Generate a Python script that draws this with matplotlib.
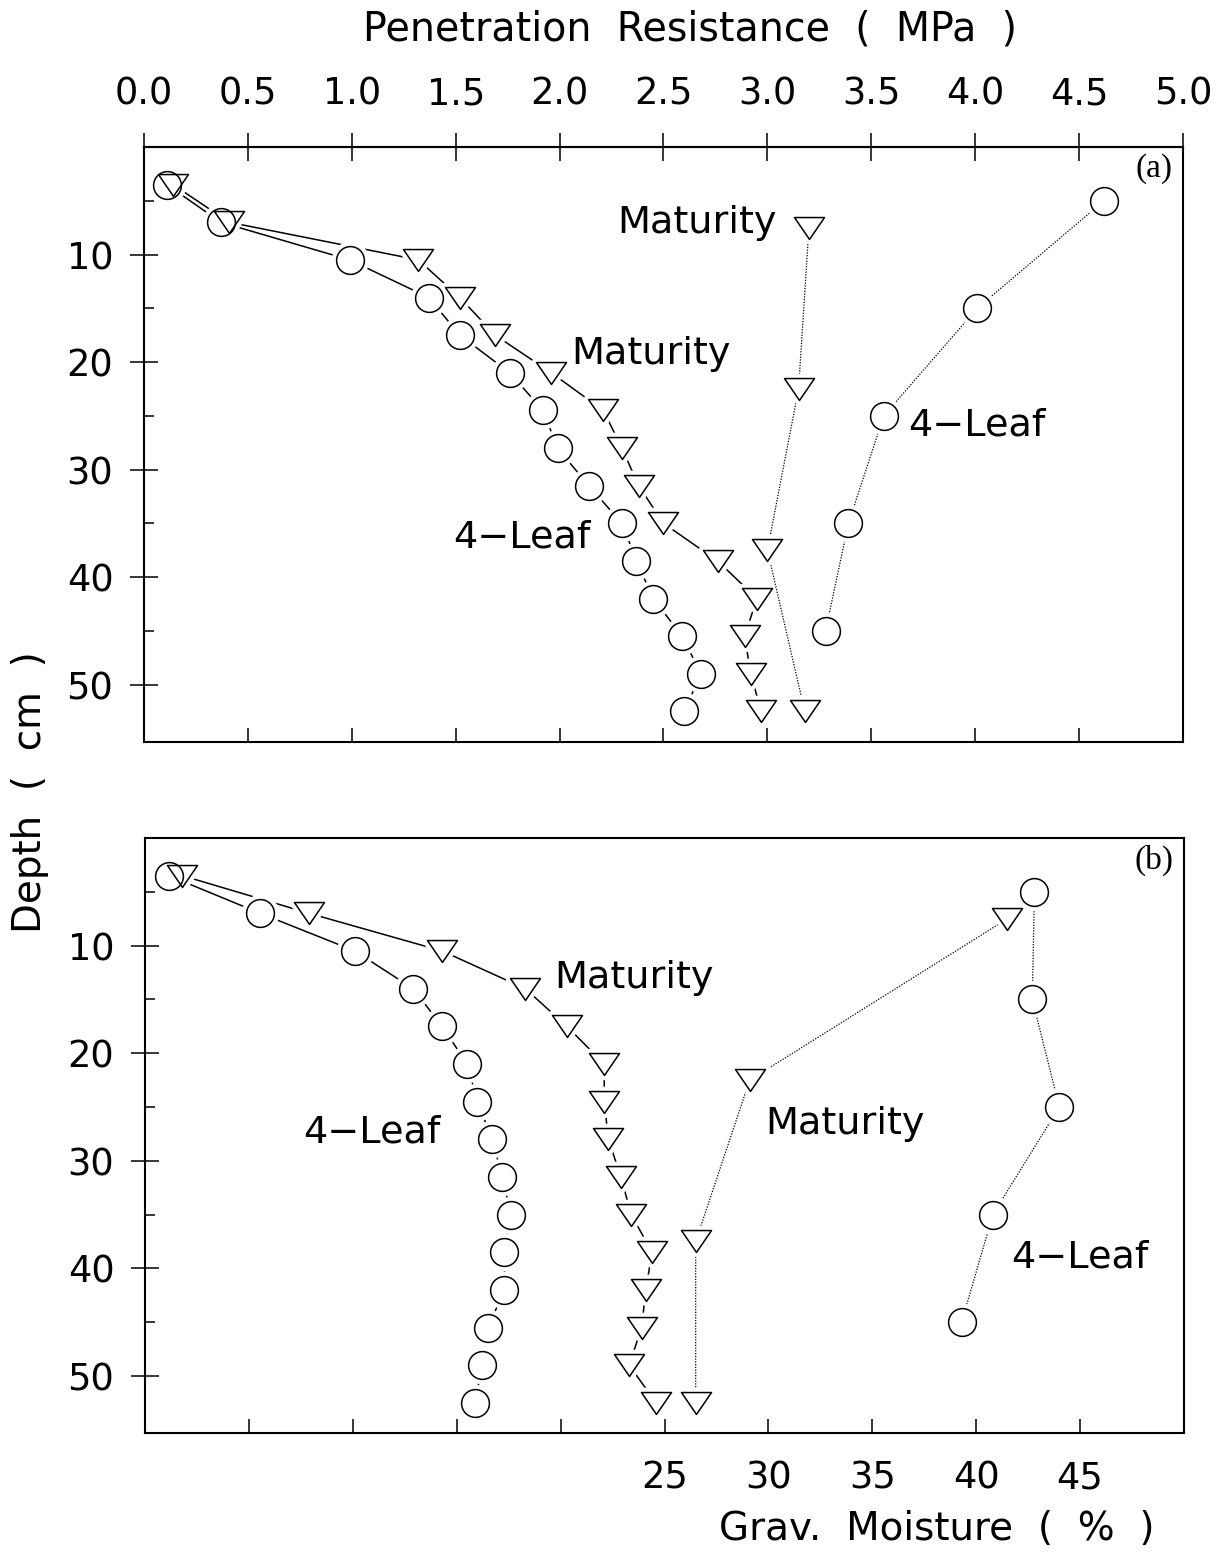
import numpy as np
import matplotlib
matplotlib.use("Agg")
import matplotlib.pyplot as plt
from matplotlib.path import Path

plt.rcParams['font.family'] = ['DejaVu Sans']

# depths (cm): penetrometer readings every 3.5 cm, cores at 15/10 cm midpoints
pen_depth = [3.5, 7.0, 10.5, 14.0, 17.5, 21.0, 24.5, 28.0, 31.5, 35.0, 38.5, 42.0, 45.5, 49.0, 52.5]
leaf_moist_depth = [5, 15, 25, 35, 45]
mat_moist_depth = [7.5, 22.5, 37.5, 52.5]

# (a) penetration resistance (MPa) and gravimetric moisture (%)
pen_leaf_a = [0.11, 0.37, 0.99, 1.37, 1.52, 1.76, 1.92, 1.99, 2.14, 2.30, 2.37, 2.45, 2.59, 2.68, 2.60]
pen_mat_a = [0.14, 0.41, 1.32, 1.52, 1.69, 1.96, 2.21, 2.30, 2.38, 2.50, 2.76, 2.95, 2.89, 2.92, 2.97]
moist_leaf_a = [46.2, 40.1, 35.6, 33.9, 32.8]
moist_mat_a = [32.0, 31.5, 30.0, 31.8]

# (b)
pen_leaf_b = [0.115, 0.555, 1.01, 1.29, 1.43, 1.55, 1.60, 1.67, 1.72, 1.76, 1.73, 1.73, 1.65, 1.62, 1.59]
pen_mat_b = [0.18, 0.79, 1.43, 1.83, 2.03, 2.21, 2.21, 2.23, 2.29, 2.34, 2.44, 2.41, 2.39, 2.33, 2.46]
moist_leaf_b = [42.8, 42.7, 44.0, 40.8, 39.3]
moist_mat_b = [41.5, 29.1, 26.5, 26.5]

pen_ticks = [0.0, 0.5, 1.0, 1.5, 2.0, 2.5, 3.0, 3.5, 4.0, 4.5, 5.0]
pen_labels = ['0.0', '0.5', '1.0', '1.5', '2.0', '2.5', '3.0', '3.5', '4.0', '4.5', '5.0']
moist_ticks = [0, 5, 10, 15, 20, 25, 30, 35, 40, 45, 50]
moist_labels = ['', '', '', '', '', '25', '30', '35', '40', '45', '']
depth_ticks = [10, 20, 30, 40, 50]
depth_minor = [5, 15, 25, 35, 45]
depth_labels = ['10', '20', '30', '40', '50']

TICK_FS = 26.5
TEXT_FS = 27.5

# wide, flat inverted triangle
tri = Path([(-1, 0.73), (1, 0.73), (0, -0.73), (-1, 0.73)],
           [Path.MOVETO, Path.LINETO, Path.LINETO, Path.CLOSEPOLY])


def profile(ax, x, y, marker, ms, dotted=False):
    if dotted:
        ax.plot(x, y, color='k', lw=0.9, ls=(0, (1, 1.2)), zorder=2)
    else:
        ax.plot(x, y, color='k', lw=1.1, zorder=2)
    # white halo so the line stops short of each symbol
    ax.plot(x, y, ls='none', marker=marker, ms=ms, mfc='white', mec='white', mew=7, zorder=3)
    ax.plot(x, y, ls='none', marker=marker, ms=ms, mfc='none', mec='k', mew=1.1, zorder=4)


def depth_axis(ax):
    ax.set_ylim(55.3, 0)
    ax.set_yticks(depth_ticks, depth_labels)
    ax.set_yticks(depth_minor, minor=True)
    ax.tick_params(axis='y', which='major', direction='inout', length=20, width=1.1,
                   labelsize=TICK_FS, pad=12, right=False)
    ax.tick_params(axis='y', which='minor', direction='in', length=7.5, width=1.1, right=False)
    for s in ax.spines.values():
        s.set_linewidth(1.5)


fig = plt.figure(figsize=(12.25, 15.54), dpi=100)
ax_a = fig.add_axes([0.11755, 0.52284, 0.84816, 0.38256])
ax_b = fig.add_axes([0.11837, 0.07786, 0.84816, 0.38288])

# ---- (a): axis in MPa, moisture on a hidden 0-50 % twin
ax_a.set_xlim(0, 5)
depth_axis(ax_a)
ax_a.set_xticks(pen_ticks)
ax_a.tick_params(axis='x', which='major', direction='in', length=10, width=1.1,
                 bottom=True, top=False, labelbottom=False)
top = ax_a.secondary_xaxis('top')
top.set_xticks(pen_ticks, pen_labels)
top.tick_params(direction='inout', length=20, width=1.1, labelsize=TICK_FS, pad=15)
top.spines['top'].set_linewidth(1.5)

profile(ax_a, pen_mat_a, pen_depth, tri, 21.6)
profile(ax_a, pen_leaf_a, pen_depth, 'o', 20)

ax_am = ax_a.twiny()
ax_am.set_xlim(0, 50)
ax_am.axis('off')
profile(ax_am, moist_mat_a, mat_moist_depth, tri, 21.6, dotted=True)
profile(ax_am, moist_leaf_a, leaf_moist_depth, 'o', 20, dotted=True)

ax_a.text(2.276, 8.0, 'Maturity', fontsize=TEXT_FS, ha='left', va='baseline')
ax_a.text(2.057, 20.2, 'Maturity', fontsize=TEXT_FS, ha='left', va='baseline')
ax_a.text(3.676, 26.8, '4\u2212Leaf', fontsize=TEXT_FS, ha='left', va='baseline')
ax_a.text(1.486, 37.3, '4\u2212Leaf', fontsize=TEXT_FS, ha='left', va='baseline')
ax_a.text(4.95, 2.0, '(a)', fontsize=24, family='Liberation Serif', ha='right', va='center')

# ---- (b): axis in %, penetration on a hidden 0-5 MPa twin
ax_b.set_xlim(0, 50)
depth_axis(ax_b)
ax_b.set_xticks(moist_ticks, moist_labels)
ax_b.tick_params(axis='x', which='major', direction='in', length=10, width=1.1,
                 bottom=True, top=True, labelsize=TICK_FS, pad=19)

profile(ax_b, moist_mat_b, mat_moist_depth, tri, 21.6, dotted=True)
profile(ax_b, moist_leaf_b, leaf_moist_depth, 'o', 20, dotted=True)

ax_bp = ax_b.twiny()
ax_bp.set_xlim(0, 5)
ax_bp.axis('off')
profile(ax_bp, pen_mat_b, pen_depth, tri, 21.6)
profile(ax_bp, pen_leaf_b, pen_depth, 'o', 20)

ax_b.text(19.7, 13.9, 'Maturity', fontsize=TEXT_FS, ha='left', va='baseline')
ax_b.text(29.85, 27.5, 'Maturity', fontsize=TEXT_FS, ha='left', va='baseline')
ax_b.text(7.6, 28.3, '4\u2212Leaf', fontsize=TEXT_FS, ha='left', va='baseline')
ax_b.text(41.7, 39.9, '4\u2212Leaf', fontsize=TEXT_FS, ha='left', va='baseline')
ax_b.text(49.5, 2.1, '(b)', fontsize=24, family='Liberation Serif', ha='right', va='center')

# shared axis titles
fig.text(690 / 1225, 1 - 40 / 1554, 'Penetration  Resistance  (  MPa  )', fontsize=28.5,
         ha='center', va='baseline')
fig.text(937 / 1225, 1 - 1540 / 1554, 'Grav.  Moisture  (  %  )', fontsize=28,
         ha='center', va='baseline')
fig.text(30 / 1225, 1 - 792 / 1554, 'Depth  (  cm  )', fontsize=28, rotation=90,
         ha='center', va='center')

fig.savefig('out.png', dpi=100)
